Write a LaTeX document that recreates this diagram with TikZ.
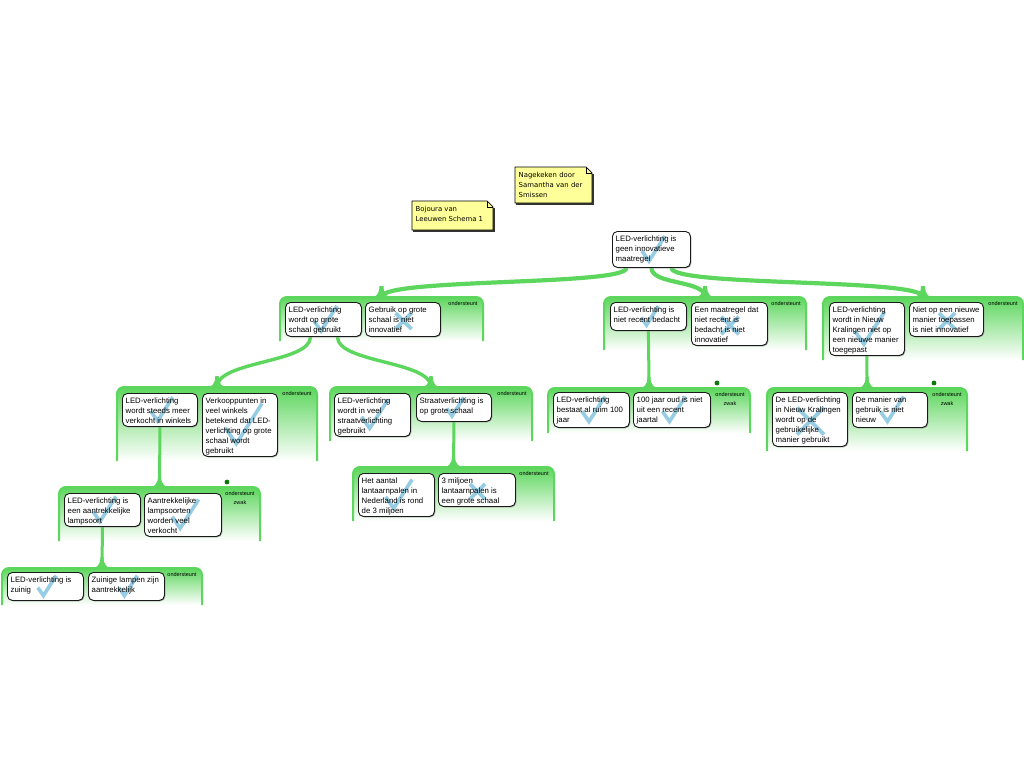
\documentclass[tikz,border=0pt]{standalone}
\usepackage{fontspec}
\setmainfont{Liberation Sans}
\newfontfamily\notefont{DejaVu Sans}
\usetikzlibrary{calc}
\definecolor{G}{RGB}{92,214,92}
\definecolor{Gdot}{RGB}{10,120,10}
\definecolor{mk}{RGB}{150,205,228}
\definecolor{ny}{RGB}{255,255,153}
\pgfdeclarelayer{grp}
\pgfdeclarelayer{fills}
\pgfdeclarelayer{marks}
\pgfsetlayers{grp,fills,marks,main}
\tikzset{
  boxshape/.style={draw=black!90, line width=0.9pt, fill=white, rounded corners=5pt, inner sep=0pt},
  txt/.style={inner sep=0pt, align=left, anchor=north west, font=\fontsize{7.8}{10}\selectfont},
  markline/.style={mk, line width=3.6pt},
  conn/.style={G, line width=#1},
  lbl/.style={inner sep=0pt, align=center, anchor=north, font=\fontsize{5.5}{9.5}\selectfont},
  notetxt/.style={inner sep=0pt, align=left, anchor=north west, font=\notefont\fontsize{6.9}{10}\selectfont},
}
\newcommand\chk[3]{\draw[markline] (#1-9*#3,#2+2*#3) -- (#1-2*#3,#2+12*#3) -- (#1+14*#3,#2-13*#3);}
\newcommand\crs[3]{\draw[markline] (#1+1-8*#3,#2+2-8*#3) -- (#1+1+8*#3,#2+2+8*#3) (#1+1+8*#3,#2+2-8*#3) -- (#1+1-8*#3,#2+2+8*#3);}
\newcommand\abox[8]{%
  \pgfmathsetmacro\bcx{#2+#4/2}\pgfmathsetmacro\bcy{#3+#5/2}%
  \begin{pgfonlayer}{fills}
    \fill[black!40, rounded corners=5pt] (#2+1.3,#3+1.3) rectangle ++(#4,#5);
    \node[boxshape, minimum width=#4, minimum height=#5, anchor=north west] (#1) at (#2,#3) {};
  \end{pgfonlayer}
  \begin{pgfonlayer}{marks}
    #6{\bcx}{\bcy}{#7}
  \end{pgfonlayer}
  \node[txt] (#1t) at (#2+3.5,#3+4) {\rule{0pt}{6pt}#8};
}
\newcommand\grp[6]{%
  \begin{pgfonlayer}{grp}
    \shade[top color=G, middle color=G!45, bottom color=white, rounded corners=7pt] (#2,#5) -- (#2,#3) -- (#4,#3) -- (#4,#5) -- cycle;
    \draw[G, line width=2pt, rounded corners=7pt] (#2,#5) -- (#2,#3) -- (#4,#3) -- (#4,#5);
  \end{pgfonlayer}
  \coordinate (#1) at ({(#2+#4)/2},#3);
  \node[lbl] (#1l) at (#4-20,#3+4) {#6};
}
\newcommand\weak[2]{\fill[Gdot] (#1-33,#2-5) circle (2.4);}
\newcommand\flare[2]{%
  \fill[G] ($(#1)+(-12,1.5)$) .. controls ($(#1)+(-5,0)$) and ($(#1)+(-#2,-3)$) .. ($(#1)+(-#2,-11)$) -- ($(#1)+(#2,-11)$) .. controls ($(#1)+(#2,-3)$) and ($(#1)+(5,0)$) .. ($(#1)+(12,1.5)$) -- cycle;}
\newcommand\stickynote[6]{%
  \draw[line width=1.4pt, black!80] (#4+1,#3+7) -- (#4+1,#5+1) -- (#2+1,#5+1);
  \filldraw[fill=ny, draw=black, line width=0.7pt] (#2,#3) -- (#4-6,#3) -- (#4,#3+6) -- (#4,#5) -- (#2,#5) -- cycle;
  \draw[line width=0.6pt] (#4-6,#3) -- (#4-6,#3+6) -- (#4,#3+6);
  \node[notetxt] (#1) at (#2+3.5,#3+4) {\rule{0pt}{6.5pt}#6};
}
\begin{document}
\begin{tikzpicture}[x=1pt,y=-1pt]
\useasboundingbox (0,0) rectangle (1024,768);
\begin{pgfonlayer}{grp}
  \fill[white] (0,0) rectangle (1024,768);
\end{pgfonlayer}

% groups
\grp{gA}{280}{297}{483}{341}{ondersteunt}
\grp{gB}{604}{297}{806}{350}{ondersteunt}
\grp{gC}{823}{297}{1023}{360}{ondersteunt}
\grp{gD}{117}{387}{317}{461}{ondersteunt}
\grp{gE}{330}{387}{532}{441}{ondersteunt}
\grp{gF}{548}{388}{750}{433}{ondersteunt\\zwak}\weak{750}{388}
\grp{gG}{767}{388}{967}{451}{ondersteunt\\zwak}\weak{967}{388}
\grp{gH}{59}{487}{260}{541}{ondersteunt\\zwak}\weak{260}{487}
\grp{gI}{353}{467}{554}{521}{ondersteunt}
\grp{gJ}{2}{568}{202}{605}{ondersteunt}

% boxes
\abox{root}{612}{231}{78}{36}{\chk}{1}{LED-verlichting is\\geen innovatieve\\maatregel}
\abox{a1}{285}{302}{76}{34}{\chk}{1}{LED-verlichting\\wordt op grote\\schaal gebruikt}
\abox{a2}{365}{302}{75}{34}{\crs}{1}{Gebruik op grote\\schaal is niet\\innovatief}
\abox{b1}{610}{302}{76}{28}{\chk}{0.75}{LED-verlichting is\\niet recent bedacht}
\abox{b2}{691}{302}{76}{43}{\crs}{1.1}{Een maatregel dat\\niet recent is\\bedacht is niet\\innovatief}
\abox{c1}{829}{302}{75}{53}{\chk}{1.3}{LED-verlichting\\wordt in Nieuw\\Kralingen niet op\\een nieuwe manier\\toegepast}
\abox{c2}{909}{302}{74}{34}{\crs}{1}{Niet op een nieuwe\\manier toepassen\\is niet innovatief}
\abox{d1}{122}{393}{75}{33}{\chk}{0.95}{LED-verlichting\\wordt steeds meer\\verkocht in winkels}
\abox{d2}{202}{393}{75}{63}{\chk}{1.6}{Verkooppunten in\\veel winkels\\betekend dat LED-\\verlichting op grote\\schaal wordt\\gebruikt}
\abox{e1}{334}{393}{76}{43}{\chk}{1.15}{LED-verlichting\\wordt in veel\\straatverlichting\\gebruikt}
\abox{e2}{416}{393}{75}{28}{\chk}{0.75}{Straatverlichting is\\op grote schaal}
\abox{f1}{553}{392}{76}{35}{\chk}{1}{LED-verlichting\\bestaat al ruim 100\\jaar}
\abox{f2}{633}{392}{77}{35}{\chk}{1}{100 jaar oud is niet\\uit een recent\\jaartal}
\abox{g1}{772}{392}{75}{54}{\crs}{1.7}{De LED-verlichting\\in Nieuw Kralingen\\wordt op de\\gebruikelijke\\manier gebruikt}
\abox{g2}{852}{392}{75}{35}{\chk}{1}{De manier van\\gebruik is niet\\nieuw}
\abox{h1}{64}{493}{76}{33}{\chk}{1}{LED-verlichting is\\een aantrekkelijke\\lampsoort}
\abox{h2}{144}{493}{77}{43}{\chk}{1.15}{Aantrekkelijke\\lampsoorten\\worden veel\\verkocht}
\abox{i1}{358}{473}{76}{43}{\chk}{1.15}{Het aantal\\lantaarnpalen in\\Nederland is rond\\de 3 miljoen}
\abox{i2}{438}{473}{77}{33}{\crs}{0.95}{3 miljoen\\lantaarnpalen is\\een grote schaal}
\abox{j1}{7}{572}{76}{28}{\chk}{0.8}{LED-verlichting is\\zuinig}
\abox{j2}{88}{572}{76}{28}{\chk}{0.8}{Zuinige lampen zijn\\aantrekkelijk}

% connectors
\begin{pgfonlayer}{grp}
  \draw[conn=4.2pt] ($(root.south)+(-25,0)$) .. controls +(0,18) and +(0,-19) .. (gA);
  \draw[conn=4.2pt] (root.south) .. controls +(0,17) and +(0,-17) .. (gB);
  \draw[conn=4.2pt] ($(root.south)+(20,0)$) .. controls +(0,19) and +(0,-19) .. (gC);
  \draw[conn=3.4pt] ($(a1.south)+(-13,0)$) .. controls +(0,26) and +(0,-26) .. (gD);
  \draw[conn=3.4pt] ($(a1.south)+(14,0)$) .. controls +(0,26) and +(0,-26) .. (gE);
  \draw[conn=3pt] (b1.south) .. controls +(0,20) and +(0,-20) .. (gF);
  \draw[conn=3pt] (c1.south) .. controls +(0,15) and +(0,-15) .. (gG);
  \draw[conn=3pt] (d1.south) .. controls +(0,20) and +(0,-20) .. (gH);
  \draw[conn=3pt] (e2.south) .. controls +(0,20) and +(0,-20) .. (gI);
  \draw[conn=3pt] (h1.south) .. controls +(0,15) and +(0,-15) .. (gJ);
  \flare{gA}{2.1}\flare{gB}{2.1}\flare{gC}{2.1}
  \flare{gD}{1.7}\flare{gE}{1.7}
  \flare{gF}{1.5}\flare{gG}{1.5}\flare{gH}{1.5}\flare{gI}{1.5}\flare{gJ}{1.5}
\end{pgfonlayer}

% notes
\stickynote{n1}{412}{201}{493}{230}{Bojoura van\\Leeuwen Schema 1}
\stickynote{n2}{515}{167}{592}{203}{Nagekeken door\\Samantha van der\\Smissen}
\end{tikzpicture}
\end{document}
